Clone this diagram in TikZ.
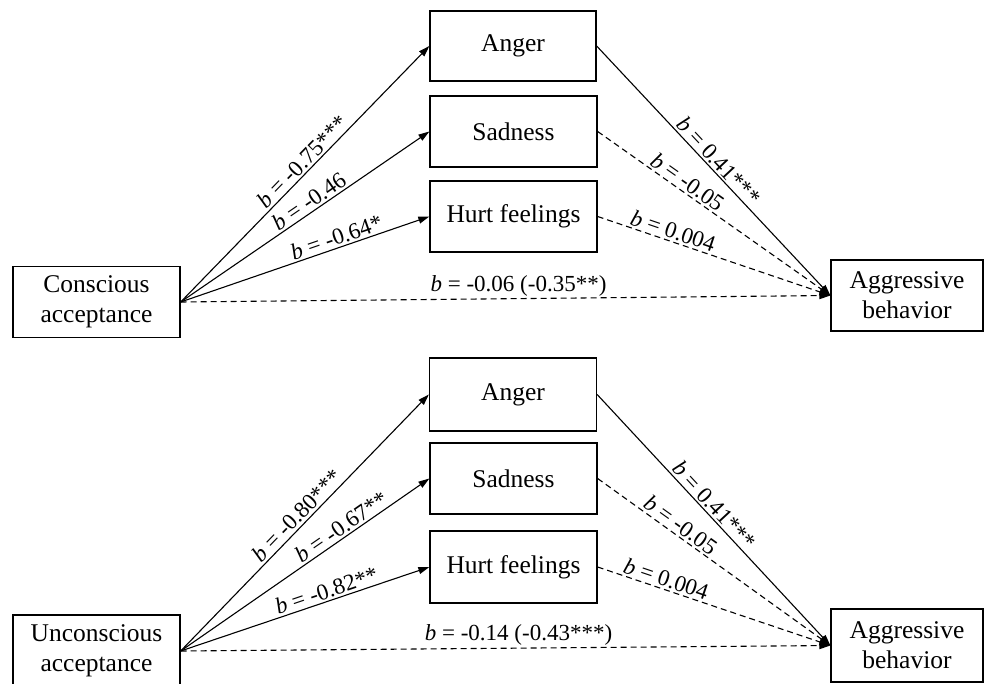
\documentclass[tikz,border=0pt]{standalone}
\usepackage{fontspec}
\setmainfont{Liberation Serif}
\usetikzlibrary{arrows.meta}
\begin{document}
\begin{tikzpicture}[x=1pt,y=-1pt,
 box/.style={draw,line width=1.3pt,minimum width=167pt,minimum height=71pt,inner sep=0pt,align=center,font=\fontsize{25.5}{30}\selectfont},
 conn/.style={line width=1.1pt,-{Triangle[length=11pt,width=7pt]}},
 dconn/.style={conn,dash pattern=on 6pt off 4pt},
 lab/.style={sloped,above,inner sep=2pt,font=\fontsize{23}{26}\selectfont},
 hlab/.style={above,inner sep=2pt,font=\fontsize{23}{26}\selectfont}]
\useasboundingbox (0,0) rectangle (984,684);
\clip (0,0) rectangle (984,684);
% ---------- top panel ----------
\node[box] (cons) at (96.5,302) {Conscious\\acceptance};
\node[box,minimum width=166pt,minimum height=70pt] (ang1) at (513,46) {Anger};
\node[box] (sad1) at (513.5,131.5) {Sadness};
\node[box] (hurt1) at (513.5,216.5) {Hurt feelings};
\node[box,minimum width=152pt] (agg1) at (907,295.5) {Aggressive\\behavior};
\draw[conn] (cons.east) -- node[lab,pos=0.52] {\textit{b} = -0.75***} (ang1.west);
\draw[conn] (cons.east) -- node[lab,pos=0.54] {\textit{b} = -0.46} (sad1.west);
\draw[conn] (cons.east) -- node[lab,pos=0.64] {\textit{b} = -0.64*} (hurt1.west);
\draw[conn] (ang1.east) -- node[lab,pos=0.49] {\textit{b} = 0.41***} (agg1.west);
\draw[dconn] (sad1.east) -- node[lab,pos=0.36] {\textit{b} = -0.05} (agg1.west);
\draw[dconn] (hurt1.east) -- node[lab,pos=0.31] {\textit{b} = 0.004} (agg1.west);
\draw[dconn] (cons.east) -- node[hlab,pos=0.52] {\textit{b} = -0.06 (-0.35**)} (agg1.west);
% ---------- bottom panel ----------
\node[box,minimum height=72pt] (uncons) at (96.5,651) {Unconscious\\acceptance};
\node[box,minimum height=73pt] (ang2) at (513,394.5) {Anger};
\node[box] (sad2) at (513.5,478.5) {Sadness};
\node[box,minimum height=72pt] (hurt2) at (513.5,567) {Hurt feelings};
\node[box,minimum width=152pt,minimum height=73pt] (agg2) at (907,645.5) {Aggressive\\behavior};
\draw[conn] (uncons.east) -- node[lab,pos=0.50] {\textit{b} = -0.80***} (ang2.west);
\draw[conn] (uncons.east) -- node[lab,pos=0.67] {\textit{b} = -0.67**} (sad2.west);
\draw[conn] (uncons.east) -- node[lab,pos=0.60] {\textit{b} = -0.82**} (hurt2.west);
\draw[conn] (ang2.east) -- node[lab,pos=0.47] {\textit{b} = 0.41***} (agg2.west);
\draw[dconn] (sad2.east) -- node[lab,pos=0.33] {\textit{b} = -0.05} (agg2.west);
\draw[dconn] (hurt2.east) -- node[lab,pos=0.28] {\textit{b} = 0.004} (agg2.west);
\draw[dconn] (uncons.east) -- node[hlab,pos=0.52] {\textit{b} = -0.14 (-0.43***)} (agg2.west);
\end{tikzpicture}
\end{document}
